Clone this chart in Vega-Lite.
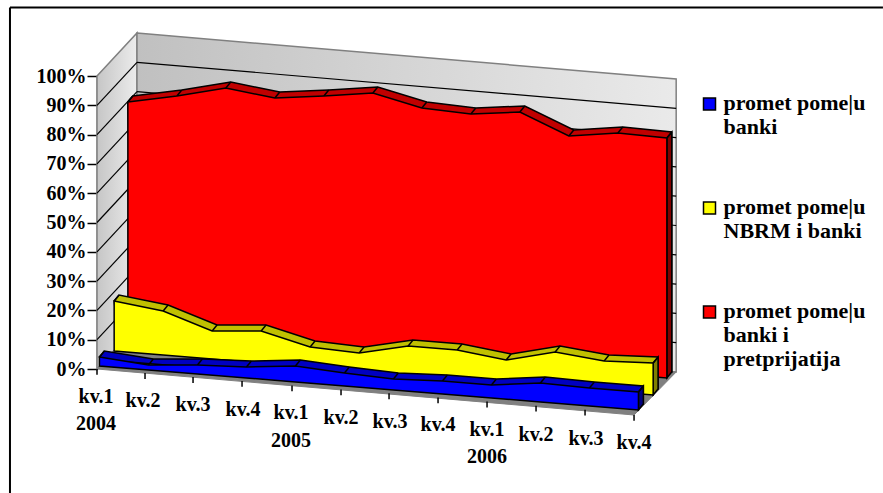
{
"$schema":"https://vega.github.io/schema/vega-lite/v6.json",
"width":784,"height":293,"autosize":"none","padding":{"left":97,"top":76,"right":2,"bottom":124},
"background":"white","config":{"view":{"stroke":null},"text":{"font":"Liberation Serif"},"axisY":{"tickCount":11,"labelOverlap":false}},
"datasets":{
"frame":[{"x":-1.776,"x2":16.04,"y":123.4,"y2":123.4},{"x":-1.776,"x2":-1.776,"y":123.4,"y2":-42.3}],
"walls":[
{"face":"left","x":0,"lo":0,"hi":100},{"face":"left","x":0.816,"lo":14.68,"hi":114.68},
{"face":"back","x":0.816,"lo":14.68,"hi":114.68},{"face":"back","x":11.82,"lo":-1.02,"hi":98.98},
{"face":"floor","x":0,"lo":0,"hi":0},{"face":"floor","x":0.816,"lo":-1.17,"hi":14.68},{"face":"floor","x":10.96,"lo":-15.7,"hi":0.21},{"face":"floor","x":11.82,"lo":-1.02,"hi":-1.02}],
"grid":[
{"p":10,"x0":0,"y0":10,"x1":0.816,"y1":24.68,"x2":11.82,"y2":8.98},
{"p":20,"x0":0,"y0":20,"x1":0.816,"y1":34.68,"x2":11.82,"y2":18.98},
{"p":30,"x0":0,"y0":30,"x1":0.816,"y1":44.68,"x2":11.82,"y2":28.98},
{"p":40,"x0":0,"y0":40,"x1":0.816,"y1":54.68,"x2":11.82,"y2":38.98},
{"p":50,"x0":0,"y0":50,"x1":0.816,"y1":64.68,"x2":11.82,"y2":48.98},
{"p":60,"x0":0,"y0":60,"x1":0.816,"y1":74.68,"x2":11.82,"y2":58.98},
{"p":70,"x0":0,"y0":70,"x1":0.816,"y1":84.68,"x2":11.82,"y2":68.98},
{"p":80,"x0":0,"y0":80,"x1":0.816,"y1":94.68,"x2":11.82,"y2":78.98},
{"p":90,"x0":0,"y0":90,"x1":0.816,"y1":104.68,"x2":11.82,"y2":88.98}],
"ticks":[
{"x":0,"y":0,"y2":-2},{"x":0.98,"y":-1.37,"y2":-3.4},{"x":1.96,"y":-2.73,"y2":-4.8},{"x":2.96,"y":-4.1,"y2":-6.1},{"x":3.98,"y":-5.6,"y2":-7.6},{"x":4.98,"y":-7,"y2":-9},{"x":5.96,"y":-8.3,"y2":-10.3},{"x":6.96,"y":-9.7,"y2":-11.7},{"x":7.96,"y":-11.1,"y2":-13.1},{"x":8.96,"y":-12.5,"y2":-14.5},{"x":9.96,"y":-13.9,"y2":-15.9},{"x":10.96,"y":-15.7,"y2":-17.7}],
"xlabels":[
{"t":"kv.1","x":-0.02,"y":-9.56},{"t":"kv.2","x":0.94,"y":-10.92},{"t":"kv.3","x":1.96,"y":-12.29},{"t":"kv.4","x":2.98,"y":-13.99},
{"t":"kv.1","x":3.96,"y":-15.02},{"t":"kv.2","x":4.98,"y":-16.72},{"t":"kv.3","x":5.98,"y":-18.09},{"t":"kv.4","x":6.96,"y":-19.11},
{"t":"kv.1","x":7.96,"y":-20.82},{"t":"kv.2","x":8.96,"y":-22.53},{"t":"kv.3","x":9.98,"y":-23.89},{"t":"kv.4","x":10.96,"y":-25.26},
{"t":"2004","x":-0.02,"y":-18.77},{"t":"2005","x":3.96,"y":-24.57},{"t":"2006","x":7.96,"y":-30.03}],
"rows":[
{"s":"r","name":"promet pome|u\nbanki i\npretprijatija","k":-1,"x":0.63,"top":91.13,"base":11.95,"xb":0.63,"topb":91.13,"baseb":91.13},
{"s":"r","name":"promet pome|u\nbanki i\npretprijatija","k":0,"x":0.63,"top":91.13,"base":11.95,"xb":0.73,"topb":93.18,"baseb":14.0},
{"s":"r","name":"promet pome|u\nbanki i\npretprijatija","k":1,"x":1.63,"top":93.17,"base":10.58,"xb":1.73,"topb":95.22,"baseb":12.63},
{"s":"r","name":"promet pome|u\nbanki i\npretprijatija","k":2,"x":2.63,"top":95.9,"base":9.22,"xb":2.73,"topb":97.95,"baseb":11.27},
{"s":"r","name":"promet pome|u\nbanki i\npretprijatija","k":3,"x":3.63,"top":92.49,"base":7.85,"xb":3.73,"topb":94.54,"baseb":9.9},
{"s":"r","name":"promet pome|u\nbanki i\npretprijatija","k":4,"x":4.63,"top":93.17,"base":6.48,"xb":4.73,"topb":95.22,"baseb":8.53},
{"s":"r","name":"promet pome|u\nbanki i\npretprijatija","k":5,"x":5.63,"top":94.2,"base":5.12,"xb":5.73,"topb":96.25,"baseb":7.17},
{"s":"r","name":"promet pome|u\nbanki i\npretprijatija","k":6,"x":6.63,"top":89.08,"base":3.75,"xb":6.73,"topb":91.13,"baseb":5.8},
{"s":"r","name":"promet pome|u\nbanki i\npretprijatija","k":7,"x":7.63,"top":87.03,"base":2.39,"xb":7.73,"topb":89.08,"baseb":4.44},
{"s":"r","name":"promet pome|u\nbanki i\npretprijatija","k":8,"x":8.63,"top":87.71,"base":1.02,"xb":8.73,"topb":89.76,"baseb":3.07},
{"s":"r","name":"promet pome|u\nbanki i\npretprijatija","k":9,"x":9.63,"top":79.52,"base":-0.34,"xb":9.73,"topb":81.57,"baseb":1.71},
{"s":"r","name":"promet pome|u\nbanki i\npretprijatija","k":10,"x":10.63,"top":80.55,"base":-1.71,"xb":10.73,"topb":82.6,"baseb":0.34},
{"s":"r","name":"promet pome|u\nbanki i\npretprijatija","k":11,"x":11.63,"top":78.84,"base":-3.07,"xb":11.73,"topb":80.89,"baseb":-1.02},
{"s":"y","name":"promet pome|u\nNBRM i banki","k":-1,"x":0.35,"top":23.21,"base":6.14,"xb":0.35,"topb":23.21,"baseb":23.21},
{"s":"y","name":"promet pome|u\nNBRM i banki","k":0,"x":0.35,"top":23.21,"base":6.14,"xb":0.45,"topb":25.26,"baseb":8.19},
{"s":"y","name":"promet pome|u\nNBRM i banki","k":1,"x":1.35,"top":19.8,"base":4.78,"xb":1.45,"topb":21.85,"baseb":6.83},
{"s":"y","name":"promet pome|u\nNBRM i banki","k":2,"x":2.35,"top":12.97,"base":3.41,"xb":2.45,"topb":15.02,"baseb":5.46},
{"s":"y","name":"promet pome|u\nNBRM i banki","k":3,"x":3.35,"top":12.97,"base":2.05,"xb":3.45,"topb":15.02,"baseb":4.1},
{"s":"y","name":"promet pome|u\nNBRM i banki","k":4,"x":4.35,"top":7.51,"base":0.68,"xb":4.45,"topb":9.56,"baseb":2.73},
{"s":"y","name":"promet pome|u\nNBRM i banki","k":5,"x":5.35,"top":5.46,"base":-0.68,"xb":5.45,"topb":7.51,"baseb":1.37},
{"s":"y","name":"promet pome|u\nNBRM i banki","k":6,"x":6.35,"top":7.85,"base":-2.05,"xb":6.45,"topb":9.9,"baseb":0},
{"s":"y","name":"promet pome|u\nNBRM i banki","k":7,"x":7.35,"top":6.48,"base":-3.41,"xb":7.45,"topb":8.53,"baseb":-1.36},
{"s":"y","name":"promet pome|u\nNBRM i banki","k":8,"x":8.35,"top":3.07,"base":-4.78,"xb":8.45,"topb":5.12,"baseb":-2.73},
{"s":"y","name":"promet pome|u\nNBRM i banki","k":9,"x":9.35,"top":5.8,"base":-6.14,"xb":9.45,"topb":7.85,"baseb":-4.09},
{"s":"y","name":"promet pome|u\nNBRM i banki","k":10,"x":10.35,"top":2.73,"base":-7.51,"xb":10.45,"topb":4.78,"baseb":-5.46},
{"s":"y","name":"promet pome|u\nNBRM i banki","k":11,"x":11.35,"top":2.05,"base":-8.87,"xb":11.45,"topb":4.1,"baseb":-6.82},
{"s":"b","name":"promet pome|u\nbanki","k":-1,"x":0.05,"top":4.1,"base":1.02,"xb":0.05,"topb":4.1,"baseb":4.1},
{"s":"b","name":"promet pome|u\nbanki","k":0,"x":0.05,"top":4.1,"base":1.02,"xb":0.15,"topb":6.15,"baseb":3.07},
{"s":"b","name":"promet pome|u\nbanki","k":1,"x":1.05,"top":1.37,"base":-0.34,"xb":1.15,"topb":3.42,"baseb":1.71},
{"s":"b","name":"promet pome|u\nbanki","k":2,"x":2.05,"top":1.37,"base":-1.71,"xb":2.15,"topb":3.42,"baseb":0.34},
{"s":"b","name":"promet pome|u\nbanki","k":3,"x":3.05,"top":0.68,"base":-3.07,"xb":3.15,"topb":2.73,"baseb":-1.02},
{"s":"b","name":"promet pome|u\nbanki","k":4,"x":4.05,"top":1.02,"base":-4.44,"xb":4.15,"topb":3.07,"baseb":-2.39},
{"s":"b","name":"promet pome|u\nbanki","k":5,"x":5.05,"top":-1.37,"base":-5.8,"xb":5.15,"topb":0.68,"baseb":-3.75},
{"s":"b","name":"promet pome|u\nbanki","k":6,"x":6.05,"top":-3.41,"base":-7.17,"xb":6.15,"topb":-1.36,"baseb":-5.12},
{"s":"b","name":"promet pome|u\nbanki","k":7,"x":7.05,"top":-4.1,"base":-8.53,"xb":7.15,"topb":-2.05,"baseb":-6.48},
{"s":"b","name":"promet pome|u\nbanki","k":8,"x":8.05,"top":-5.46,"base":-9.9,"xb":8.15,"topb":-3.41,"baseb":-7.85},
{"s":"b","name":"promet pome|u\nbanki","k":9,"x":9.05,"top":-4.78,"base":-11.26,"xb":9.15,"topb":-2.73,"baseb":-9.21},
{"s":"b","name":"promet pome|u\nbanki","k":10,"x":10.05,"top":-6.48,"base":-12.63,"xb":10.15,"topb":-4.43,"baseb":-10.58},
{"s":"b","name":"promet pome|u\nbanki","k":11,"x":11.05,"top":-7.85,"base":-13.99,"xb":11.15,"topb":-5.8,"baseb":-11.94}],
"sides":[
{"s":"r","x":11.63,"top":78.84,"base":-3.07},{"s":"r","x":11.73,"top":80.89,"base":-1.02},
{"s":"y","x":11.35,"top":2.05,"base":-8.87},{"s":"y","x":11.45,"top":4.1,"base":-6.82},
{"s":"b","x":11.05,"top":-7.85,"base":-13.99},{"s":"b","x":11.15,"top":-5.8,"base":-11.94}]
},
"data":{"name":"rows"},
"layer":[
{"data":{"name":"walls"},"transform":[{"filter":"datum.face=='left'"}],
 "mark":{"type":"area","stroke":"#808080","strokeWidth":1.5,"fill":{"gradient":"linear","x1":0,"x2":1,"y1":0,"y2":0,"stops":[{"offset":0,"color":"#c6c6c6"},{"offset":1,"color":"#ececec"}]}},
 "encoding":{"x":{"field":"x","type":"quantitative","axis":null,"scale":{"domain":[0,16],"nice":false,"zero":false}},
 "y":{"field":"hi","type":"quantitative","title":null,"scale":{"domain":[0,100],"nice":false,"zero":false},
  "axis":{"values":[0,10,20,30,40,50,60,70,80,90,100],"tickCount":11,"labelExpr":"datum.value+'%'","labelOverlap":false,"grid":false,"tickSize":10,"tickWidth":1.5,"tickColor":"black","domainColor":"black","domainWidth":1.5,"labelPadding":1,"labelFont":"Liberation Serif","labelFontWeight":"bold","labelFontSize":20,"labelColor":"black"}},
 "y2":{"field":"lo"}}},
{"data":{"name":"walls"},"transform":[{"filter":"datum.face=='back'"}],
 "mark":{"type":"area","stroke":"#808080","strokeWidth":1.5,"fill":{"gradient":"linear","x1":0,"x2":1,"y1":0,"y2":0,"stops":[{"offset":0,"color":"#c0c0c0"},{"offset":1,"color":"#eaeaea"}]}},
 "encoding":{"x":{"field":"x","type":"quantitative"},"y":{"field":"hi","type":"quantitative"},"y2":{"field":"lo"}}},
{"data":{"name":"walls"},"transform":[{"filter":"datum.face=='floor'"}],
 "mark":{"type":"area","fill":"#808080","stroke":"#808080"},
 "encoding":{"x":{"field":"x","type":"quantitative"},"y":{"field":"hi","type":"quantitative"},"y2":{"field":"lo"}}},
{"data":{"name":"grid"},"mark":{"type":"rule","color":"black","strokeWidth":1.2},
 "encoding":{"x":{"field":"x0","type":"quantitative"},"y":{"field":"y0","type":"quantitative"},"x2":{"field":"x1"},"y2":{"field":"y1"}}},
{"data":{"name":"grid"},"mark":{"type":"rule","color":"black","strokeWidth":1.2},
 "encoding":{"x":{"field":"x1","type":"quantitative"},"y":{"field":"y1","type":"quantitative"},"x2":{"field":"x2"},"y2":{"field":"y2"}}},
{"data":{"name":"frame"},"mark":{"type":"rule","color":"black","strokeWidth":2},
 "encoding":{"x":{"field":"x","type":"quantitative"},"y":{"field":"y","type":"quantitative"},"x2":{"field":"x2"},"y2":{"field":"y2"}}},
{"data":{"name":"ticks"},"mark":{"type":"rule","color":"black","strokeWidth":1.5},
 "encoding":{"x":{"field":"x","type":"quantitative"},"y":{"field":"y","type":"quantitative"},"y2":{"field":"y2"}}},
{"data":{"name":"xlabels"},"mark":{"type":"text","font":"Liberation Serif","fontWeight":"bold","fontSize":20,"color":"black","baseline":"middle"},
 "encoding":{"x":{"field":"x","type":"quantitative"},"y":{"field":"y","type":"quantitative"},"text":{"field":"t"}}},

{"transform":[{"filter":"datum.s=='r'"}],"mark":{"type":"area","fill":"#c00000","stroke":"black","strokeWidth":1.5},
 "encoding":{"x":{"field":"xb","type":"quantitative"},"y":{"field":"topb","type":"quantitative"},"y2":{"field":"baseb"}}},
{"data":{"name":"sides"},"transform":[{"filter":"datum.s=='r'"}],"mark":{"type":"area","fill":"#800000","stroke":"black","strokeWidth":1.5},
 "encoding":{"x":{"field":"x","type":"quantitative"},"y":{"field":"top","type":"quantitative"},"y2":{"field":"base"}}},
{"transform":[{"filter":"datum.s=='r' && datum.k>=0"}],"mark":{"type":"rule","color":"black","strokeWidth":1.5},
 "encoding":{"x":{"field":"x","type":"quantitative"},"y":{"field":"top","type":"quantitative"},"x2":{"field":"xb"},"y2":{"field":"topb"}}},
{"transform":[{"filter":"datum.s=='r' && datum.k>=0"}],"mark":{"type":"area","stroke":"black","strokeWidth":1.5},
 "encoding":{"x":{"field":"x","type":"quantitative"},"y":{"field":"top","type":"quantitative"},"y2":{"field":"base"},
 "color":{"field":"name","type":"nominal","scale":{"domain":["promet pome|u\nbanki","promet pome|u\nNBRM i banki","promet pome|u\nbanki i\npretprijatija"],"range":["#0000ff","#ffff00","#ff0000"]},
 "legend":{"title":null,"orient":"none","legendX":601.5,"legendY":17,"padding":0,"symbolType":"square","symbolSize":144,"symbolStrokeColor":"black","symbolStrokeWidth":1.5,"labelFont":"Liberation Serif","labelFontWeight":"bold","labelFontSize":22,"labelColor":"black","labelLimit":300,"labelOffset":3,"labelBaseline":"top","rowPadding":58,"labelExpr":"split(datum.label,'\\n')","encoding":{"labels":{"lineHeight":{"value":24},"dy":{"value":-11}}}}}}},

{"transform":[{"filter":"datum.s=='y'"}],"mark":{"type":"area","fill":"#c0c000","stroke":"black","strokeWidth":1.5},
 "encoding":{"x":{"field":"xb","type":"quantitative"},"y":{"field":"topb","type":"quantitative"},"y2":{"field":"baseb"}}},
{"data":{"name":"sides"},"transform":[{"filter":"datum.s=='y'"}],"mark":{"type":"area","fill":"#808000","stroke":"black","strokeWidth":1.5},
 "encoding":{"x":{"field":"x","type":"quantitative"},"y":{"field":"top","type":"quantitative"},"y2":{"field":"base"}}},
{"transform":[{"filter":"datum.s=='y' && datum.k>=0"}],"mark":{"type":"rule","color":"black","strokeWidth":1.5},
 "encoding":{"x":{"field":"x","type":"quantitative"},"y":{"field":"top","type":"quantitative"},"x2":{"field":"xb"},"y2":{"field":"topb"}}},
{"transform":[{"filter":"datum.s=='y' && datum.k>=0"}],"mark":{"type":"area","stroke":"black","strokeWidth":1.5},
 "encoding":{"x":{"field":"x","type":"quantitative"},"y":{"field":"top","type":"quantitative"},"y2":{"field":"base"},"color":{"field":"name","type":"nominal"}}},

{"transform":[{"filter":"datum.s=='b'"}],"mark":{"type":"area","fill":"#0000c0","stroke":"black","strokeWidth":1.5},
 "encoding":{"x":{"field":"xb","type":"quantitative"},"y":{"field":"topb","type":"quantitative"},"y2":{"field":"baseb"}}},
{"data":{"name":"sides"},"transform":[{"filter":"datum.s=='b'"}],"mark":{"type":"area","fill":"#000080","stroke":"black","strokeWidth":1.5},
 "encoding":{"x":{"field":"x","type":"quantitative"},"y":{"field":"top","type":"quantitative"},"y2":{"field":"base"}}},
{"transform":[{"filter":"datum.s=='b' && datum.k>=0"}],"mark":{"type":"rule","color":"black","strokeWidth":1.5},
 "encoding":{"x":{"field":"x","type":"quantitative"},"y":{"field":"top","type":"quantitative"},"x2":{"field":"xb"},"y2":{"field":"topb"}}},
{"transform":[{"filter":"datum.s=='b' && datum.k>=0"}],"mark":{"type":"area","stroke":"black","strokeWidth":1.5},
 "encoding":{"x":{"field":"x","type":"quantitative"},"y":{"field":"top","type":"quantitative"},"y2":{"field":"base"},"color":{"field":"name","type":"nominal"}}}
]
}
